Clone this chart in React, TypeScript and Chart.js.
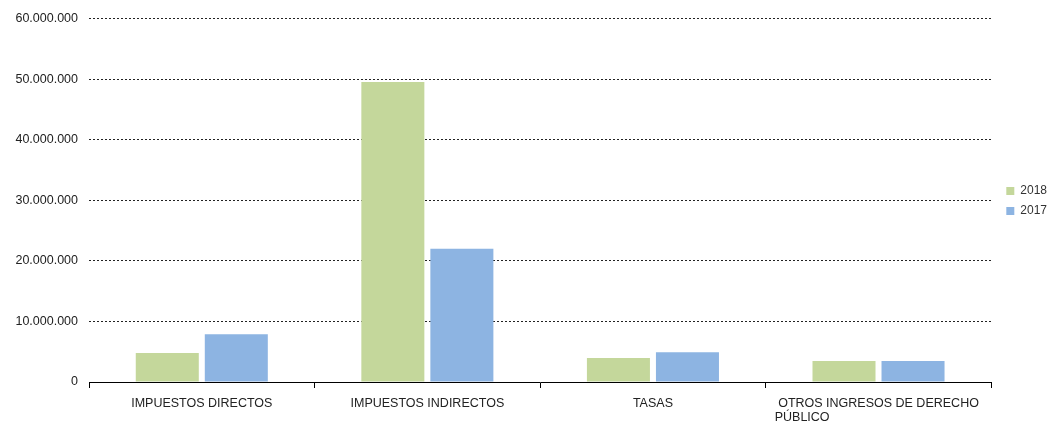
import React, { useEffect, useRef } from "react";
import { Chart, registerables } from "chart.js";

Chart.register(...registerables);

const categories: (string | string[])[] = [
  "IMPUESTOS DIRECTOS",
  "IMPUESTOS INDIRECTOS",
  "TASAS",
  ["OTROS INGRESOS DE DERECHO", "PÚBLICO" + " ".repeat(44)],
];
const series2018 = [4770000, 49500000, 3950000, 3450000];
const series2017 = [7900000, 22000000, 4930000, 3450000];
const yTicks = [0, 10000000, 20000000, 30000000, 40000000, 50000000, 60000000];

const fmt = (v: number) => String(Math.round(v)).replace(/\B(?=(\d{3})+(?!\d))/g, ".");

const legendShift = {
  id: "legendShift",
  afterUpdate(chart: any) {
    const lg = chart.legend;
    if (!lg) return;
    const dy = -18;
    const dx = 7;
    lg.top += dy;
    lg.bottom += dy;
    lg.left += dx;
    lg.right += dx;
    (lg.legendHitBoxes || []).forEach((b: any) => {
      b.top += dy;
      b.left += dx;
    });
  },
};

export default function App() {
  const ref = useRef<HTMLCanvasElement>(null);
  useEffect(() => {
    document.body.style.margin = "0";
    const chart = new Chart(ref.current!, {
      type: "bar",
      data: {
        labels: categories,
        datasets: [
          { label: "2018", data: series2018, backgroundColor: "#C4D79B", barPercentage: 0.913, categoryPercentage: 0.612 },
          { label: "2017", data: series2017, backgroundColor: "#8DB4E2", barPercentage: 0.913, categoryPercentage: 0.612 },
        ],
      },
      plugins: [legendShift],
      options: {
        animation: false,
        responsive: false,
        maintainAspectRatio: false,
        layout: { padding: { top: 15, left: 0, right: 0, bottom: 0 } },
        plugins: {
          tooltip: { enabled: false },
          legend: {
            position: "right",
            align: "center",
            labels: {
              boxWidth: 8,
              boxHeight: 8,
              padding: 8,
              color: "#333",
              font: { family: "'Liberation Sans', Arial, sans-serif", size: 12 },
            },
          },
        },
        scales: {
          x: {
            grid: {
              offset: true,
              drawOnChartArea: false,
              drawTicks: true,
              tickLength: 6,
              color: "#000",
            },
            border: { display: true, color: "#000", width: 1 },
            ticks: {
              color: "#222",
              padding: 9,
              maxRotation: 0,
              autoSkip: false,
              font: { family: "'Liberation Sans', Arial, sans-serif", size: 12.5, lineHeight: 1.12 },
            },
            afterFit: (s: any) => { s.height = 41; },
          },
          y: {
            min: 0,
            max: 60000000,
            afterBuildTicks: (s: any) => { s.ticks = yTicks.map((v) => ({ value: v })); },
            grid: {
              drawTicks: false,
              color: (c: any) => (c.tick && c.tick.value === 0 ? "rgba(0,0,0,0)" : "#222"),
              lineWidth: 1,
            },
            border: { display: false, dash: [2, 2] },
            ticks: {
              color: "#222",
              padding: 11,
              callback: (v: any) => fmt(Number(v)),
              font: { family: "'Liberation Sans', Arial, sans-serif", size: 12.5 },
            },
            afterFit: (s: any) => { s.width = 89; },
          },
        },
      },
    });
    return () => chart.destroy();
  }, []);
  return (
    <div style={{ position: "absolute", left: 0, top: 0, width: 1050, height: 423 }}>
      <canvas ref={ref} width={1050} height={423} />
    </div>
  );
}
